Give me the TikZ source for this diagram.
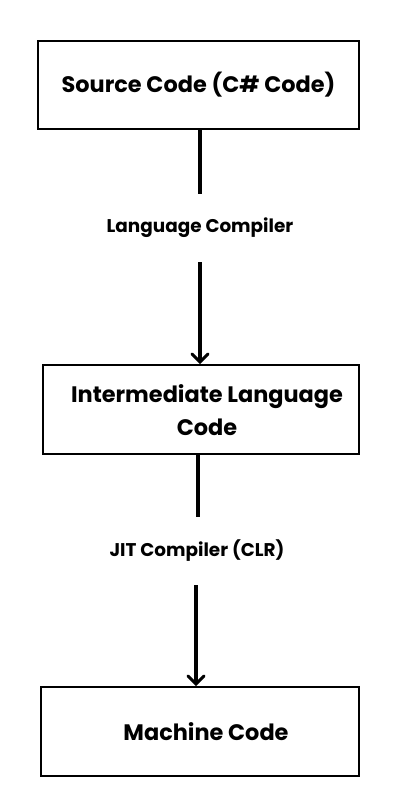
\documentclass[tikz,border=0pt]{standalone}
\usepackage{fontspec}
\setmainfont{Poppins}[BoldFont={* Bold}]
\usetikzlibrary{arrows.meta}
\begin{document}
\begin{tikzpicture}[x=0.75pt,y=-0.75pt,
  box/.style={draw=black,line width=1.5pt,inner sep=0pt,font=\bfseries\fontsize{16.8}{24.5}\selectfont,align=center},
  btext/.style={inner sep=0pt,font=\bfseries\fontsize{16.8}{24.5}\selectfont,align=center},
  lbl/.style={inner sep=0pt,minimum height=51pt,font=\bfseries\fontsize{13.8}{16}\selectfont},
  conn/.style={line width=3pt},
  arr/.style={line width=3pt,-{Straight Barb[length=6pt,width=12pt,line width=2.2pt,line cap=round]}}]
\useasboundingbox (0,0) rectangle (400,800);
\node[box,minimum width=240.75pt,minimum height=66pt] (b1) at (198.5,85) {Source Code (C\# Code)};
\node[lbl] (l1) at (200,228) {Language Compiler};
\node[box,minimum width=237pt,minimum height=66.75pt] (b2) at (201,409.5) {};
\node[btext] (t2) at (207,410) {Intermediate Language\\Code};
\node[lbl] (l2) at (197,551) {JIT Compiler (CLR)};
\node[box,minimum width=238.5pt,minimum height=66.75pt] (b3) at (200,731.5) {};
\node[btext] (t3) at (206,732) {Machine Code};
\draw[conn] (b1.south -| 200,0) -- (l1.north);
\draw[arr] (l1.south) -- (b2.north -| 200,0);
\draw[conn] (b2.south -| 198,0) -- (l2.north -| 198,0);
\draw[arr] (l2.south -| 196,0) -- (b3.north -| 196,0);
\end{tikzpicture}
\end{document}
